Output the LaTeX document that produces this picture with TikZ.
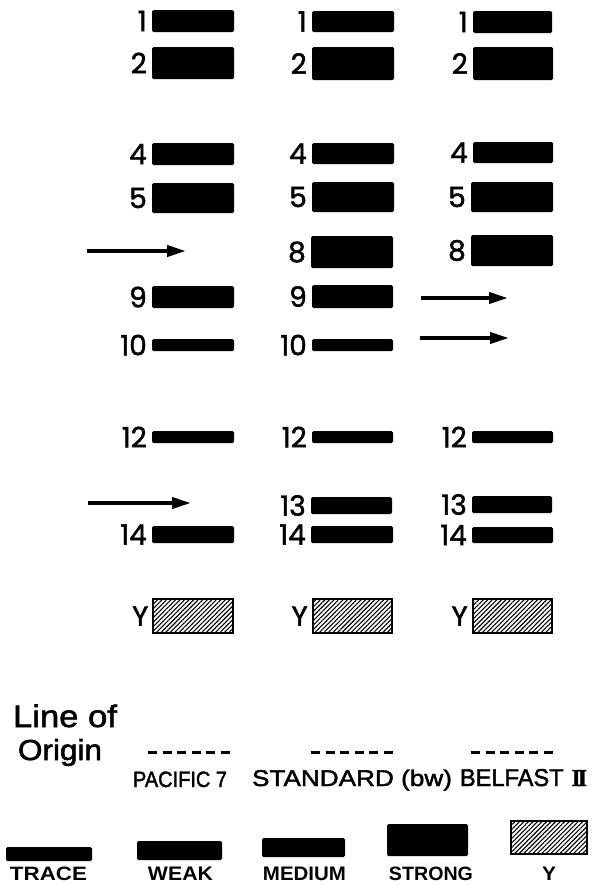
\documentclass[tikz,border=0pt]{standalone}
\usepackage{fontspec}
\usepackage{graphicx}
\setmainfont{Liberation Sans}
\newfontfamily\numfont[FakeBold=1.6]{Poppins}
\newfontfamily\namefont[FakeBold=1.8]{Liberation Sans}
\newfontfamily\serifroman[FakeBold=1.5]{Liberation Serif}
\usetikzlibrary{patterns.meta,arrows.meta}

\tikzset{
  bandbar/.style={fill=black, draw=none, rounded corners=1.5pt, inner sep=0pt, outer sep=0pt},
  hatchbox/.style={draw=black, line width=2.4pt, inner sep=0pt,
    pattern={Lines[angle=45,distance=3.2pt,line width=1.1pt]}},
  bandlab/.style={font=\numfont\fontsize{28}{28}\selectfont, inner sep=0pt, anchor=east},
  migarrow/.style={line width=3.8pt, -{Triangle[length=19pt,width=11pt]}},
  originline/.style={line width=3pt, dash pattern=on 9pt off 5.6pt},
  plaintext/.style={inner sep=0pt, outer sep=0pt},
}

% name, x0, x1, ytop, ybottom, label
\newcommand\mkband[6]{%
  \node[bandbar, minimum width={(#3-#2)*1pt}, minimum height={(#5-#4)*1pt}] (#1) at ({(#2+#3)/2},{(#4+#5)/2}) {};
  \node[bandlab] (#1l) at ([xshift=-5pt]#1.west) {#6};}
\newcommand\mkybox[6]{%
  \node[hatchbox, minimum width={(#3-#2-2.4)*1pt}, minimum height={(#5-#4-2.4)*1pt}] (#1) at ({(#2+#3)/2},{(#4+#5)/2}) {};
  \node[bandlab] (#1l) at ([xshift=-4pt]#1.west) {#6};}
\newcommand\mklegbar[5]{%
  \node[bandbar, minimum width={(#3-#2)*1pt}, minimum height={(#5-#4)*1pt}] (#1) at ({(#2+#3)/2},{(#4+#5)/2}) {};}

\begin{document}
\begin{tikzpicture}[x=1pt,y=-1pt]
\path[fill=white,use as bounding box] (0,0) rectangle (592,884);

% ---- column 1: PACIFIC 7
\mkband{aone}{152}{234}{10}{32}{1}
\mkband{atwo}{152}{234}{47}{79}{2}
\mkband{afour}{152}{234}{143}{165}{4}
\mkband{afive}{152}{234}{183}{213}{5}
\mkband{anine}{152}{234}{286}{308}{9}
\mkband{aten}{152}{234}{339}{351}{10}
\mkband{atwelve}{152}{234}{431}{443}{12}
\mkband{afourteen}{152}{234}{526}{543}{14}
\mkybox{ay}{152}{234}{598}{634}{Y}

% ---- column 2: STANDARD (bw)
\mkband{bone}{312}{394}{11}{32}{1}
\mkband{btwo}{312}{394}{47}{80}{2}
\mkband{bfour}{312}{394}{143}{164}{4}
\mkband{bfive}{312}{394}{182}{212}{5}
\mkband{beight}{311}{393}{236}{268}{8}
\mkband{bnine}{312}{393}{285}{308}{9}
\mkband{bten}{312}{393}{339}{351}{10}
\mkband{btwelve}{312}{393}{431}{443}{12}
\mkband{bthirteen}{311}{392}{497}{514}{13}
\mkband{bfourteen}{311}{393}{526}{543}{14}
\mkybox{by}{312}{393}{598}{634}{Y}

% ---- column 3: BELFAST II
\mkband{cone}{473}{552}{11}{33}{1}
\mkband{ctwo}{473}{553}{47}{80}{2}
\mkband{cfour}{473}{553}{142}{163}{4}
\mkband{cfive}{471}{553}{182}{212}{5}
\mkband{ceight}{471}{553}{235}{266}{8}
\mkband{ctwelve}{472}{553}{431}{443}{12}
\mkband{cthirteen}{472}{552}{496}{513}{13}
\mkband{cfourteen}{472}{553}{527}{543}{14}
\mkybox{cy}{472}{553}{598}{634}{Y}

% ---- arrows marking missing bands
\coordinate (arA1) at (87,251);  \coordinate (arA2) at (186,251);
\coordinate (arB1) at (88,503);  \coordinate (arB2) at (191,503);
\coordinate (arC1) at (421,298); \coordinate (arC2) at (508,298);
\coordinate (arD1) at (420,338); \coordinate (arD2) at (509,338);
\draw[migarrow] (arA1) -- (arA2);
\draw[migarrow] (arB1) -- (arB2);
\draw[migarrow] (arC1) -- (arC2);
\draw[migarrow] (arD1) -- (arD2);

% ---- line of origin
\node[plaintext, anchor=base west] (lineof) at (13,727) {\resizebox{104pt}{22.5pt}{\namefont Line of}};
\node[plaintext, anchor=base west] (origin) at (18,760) {\resizebox{84pt}{21pt}{\namefont Origin}};
\coordinate (oa1) at (148,752); \coordinate (oa2) at (230,752);
\coordinate (ob1) at (311,752); \coordinate (ob2) at (393,752);
\coordinate (oc1) at (471,752); \coordinate (oc2) at (553,752);
\draw[originline] (oa1) -- (oa2);
\draw[originline] (ob1) -- (ob2);
\draw[originline] (oc1) -- (oc2);

% ---- variety names
\node[plaintext, anchor=base west] (pacific) at (133,787) {\resizebox{94pt}{15.5pt}{\namefont PACIFIC 7}};
\node[plaintext, anchor=base west] (standard) at (252,786) {\resizebox{200pt}{16.5pt}{\namefont STANDARD (bw)}};
\node[plaintext, anchor=base west] (belfast) at (460,786) {\resizebox{127pt}{17pt}{\namefont BELFAST\,\,{\serifroman\bfseries I\kern-1.2ptI}}};

% ---- legend
\mklegbar{ltrace}{6}{92}{847}{861}
\mklegbar{lweak}{137}{222}{841}{860}
\mklegbar{lmedium}{262}{345}{838}{857}
\mklegbar{lstrong}{387}{468}{824}{856}
\node[hatchbox, minimum width=75.6pt, minimum height=32.6pt] (ly) at (549,837.5) {};

\node[plaintext, anchor=base] (ttrace) at (48.5,880) {\resizebox{77pt}{13.5pt}{\bfseries TRACE}};
\node[plaintext, anchor=base] (tweak) at (180.5,880) {\resizebox{65pt}{13.5pt}{\bfseries WEAK}};
\node[plaintext, anchor=base] (tmedium) at (304.5,880) {\resizebox{83pt}{13.5pt}{\bfseries MEDIUM}};
\node[plaintext, anchor=base] (tstrong) at (431,880) {\resizebox{84pt}{13.5pt}{\bfseries STRONG}};
\node[plaintext, anchor=base] (ty) at (549,880) {\resizebox{14pt}{13.5pt}{\bfseries Y}};
\end{tikzpicture}
\end{document}
